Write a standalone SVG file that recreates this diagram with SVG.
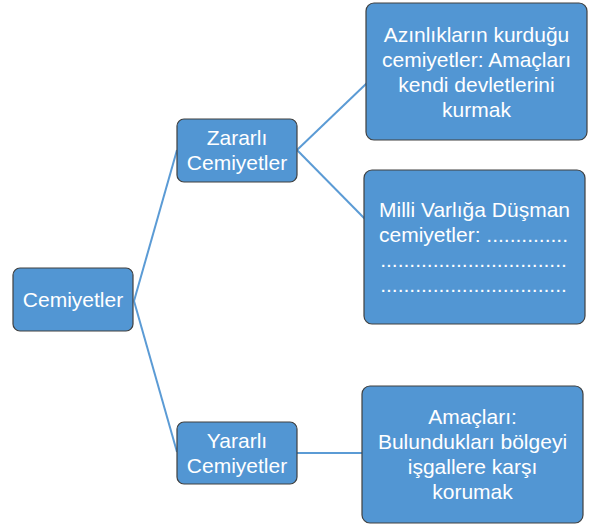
<svg xmlns="http://www.w3.org/2000/svg" width="592" height="525" viewBox="0 0 592 525">
<style>
.box{fill:#5296d3;stroke:#404040;stroke-width:1.2}
.t{font-family:"Liberation Sans",Arial,sans-serif;font-size:21px;fill:#ffffff;text-anchor:middle}
.c{stroke:#5b9bd5;stroke-width:2;fill:none}
</style>
<rect width="592" height="525" fill="#ffffff"/>
<g id="connectors">
<line class="c" x1="134" y1="301" x2="177" y2="150"/>
<line class="c" x1="134" y1="301" x2="177" y2="452"/>
<line class="c" x1="297" y1="150" x2="367" y2="83"/>
<line class="c" x1="297" y1="150" x2="365" y2="219"/>
<line class="c" x1="297" y1="453" x2="362" y2="453"/>
</g>
<g id="cemiyetler">
<rect class="box" x="13" y="268" width="120" height="63" rx="7"/>
<text class="t" x="73" y="307">Cemiyetler</text>
</g>
<g id="zararli">
<rect class="box" x="177" y="119" width="120" height="63" rx="7"/>
<text class="t" x="237" y="145">Zararlı</text>
<text class="t" x="237" y="170">Cemiyetler</text>
</g>
<g id="yararli">
<rect class="box" x="177" y="422" width="120" height="62" rx="7"/>
<text class="t" x="237" y="448">Yararlı</text>
<text class="t" x="237" y="473">Cemiyetler</text>
</g>
<g id="azinliklar">
<rect class="box" x="366" y="3" width="221" height="137" rx="8"/>
<text class="t" x="476.5" y="42">Azınlıkların kurduğu</text>
<text class="t" x="476.5" y="67">cemiyetler: Amaçları</text>
<text class="t" x="476.5" y="92">kendi devletlerini</text>
<text class="t" x="476.5" y="117">kurmak</text>
</g>
<g id="milli-varliga">
<rect class="box" x="364" y="170" width="221" height="154" rx="8"/>
<text class="t" x="474.5" y="217">Milli Varlığa Düşman</text>
<text class="t" x="473.5" y="242">cemiyetler: ..............</text>
<text class="t" x="473.5" y="267">................................</text>
<text class="t" x="473.5" y="292">................................</text>
</g>
<g id="amaclari">
<rect class="box" x="362" y="386" width="221" height="137" rx="8"/>
<text class="t" x="472.5" y="424">Amaçları:</text>
<text class="t" x="472.5" y="449">Bulundukları bölgeyi</text>
<text class="t" x="472.5" y="474">işgallere karşı</text>
<text class="t" x="472.5" y="499">korumak</text>
</g>
</svg>
